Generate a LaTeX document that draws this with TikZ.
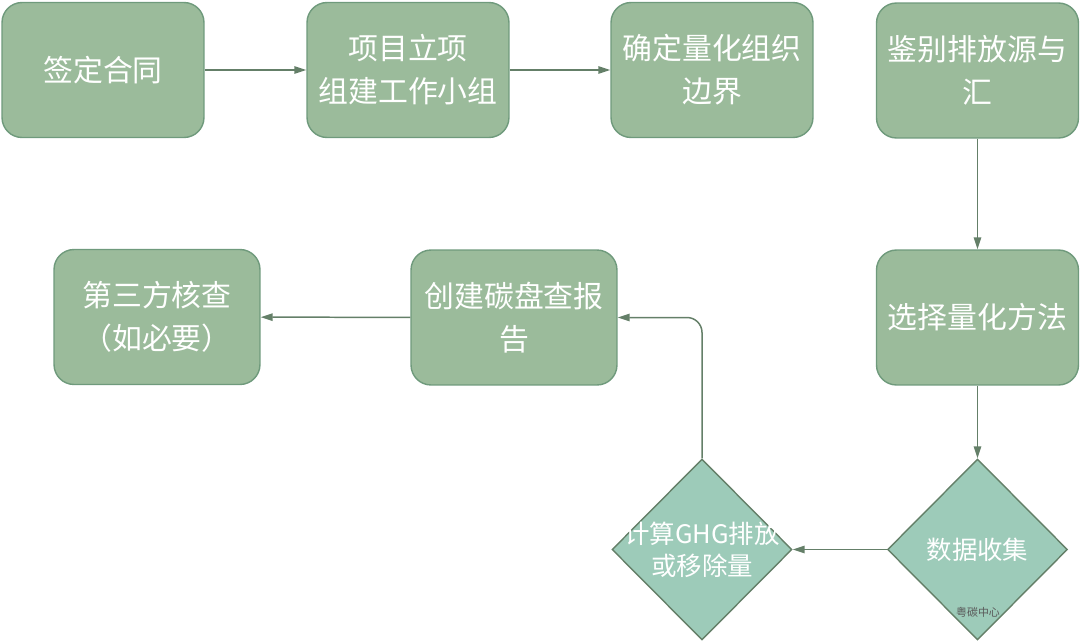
\documentclass[tikz,border=0pt]{standalone}
\usepackage{fontspec}
\setmainfont{Noto Sans CJK SC}
\usetikzlibrary{shapes.geometric,arrows.meta}
\definecolor{boxfill}{HTML}{9BBB9B}
\definecolor{boxline}{HTML}{6F9A7C}
\definecolor{diafill}{HTML}{9DCBB9}
\definecolor{linkcol}{HTML}{647F68}
\begin{document}
\begin{tikzpicture}[x=0.02cm, y=-0.02cm,
    box/.style={rectangle, rounded corners=0.4cm, draw=boxline, fill=boxfill, line width=0.8pt,
        minimum width=4.04cm, minimum height=2.7cm, align=center, text=white,
        font=\fontsize{17}{24.4}\selectfont},
    dia/.style={diamond, draw=linkcol, fill=diafill, line width=0.8pt, inner sep=0pt,
        minimum width=3.6cm, minimum height=3.62cm},
    dialabel/.style={align=center, text=white, font=\fontsize{14.5}{18}\selectfont},
    link/.style={draw=linkcol, line width=0.85pt, -{Triangle[length=2.4mm, width=1.5mm]}}]
    \useasboundingbox (0,0) rectangle (1080,643);
    \node[box] (contract) at (103,70) {签定合同};
    \node[box] (project) at (408,70) {项目立项\\组建工作小组};
    \node[box] (boundary) at (712,70) {确定量化组织\\边界};
    \node[box] (sources) at (977.5,70.5) {鉴别排放源与\\汇};
    \node[box] (method) at (977.5,317.5) {选择量化方法};
    \node[box, minimum width=4.12cm] (report) at (514,317.5) {创建碳盘查报\\告};
    \node[box, minimum width=4.12cm] (verify) at (157,317) {第三方核查\\（如必要）};
    \node[dia, label={[dialabel]center:数据收集}] (collect) at (977.5,549.5) {};
    \node[dia, label={[dialabel]center:计算GHG排放\\或移除量}] (calc) at (702,549.5) {};
    \node[text=black!65, font=\fontsize{6.2}{7}\selectfont] (mark) at (978,612) {粤碳中心};
    \draw[link] (contract) -- (project);
    \draw[link] (project) -- (boundary);
    \draw[link] (sources) -- (method);
    \draw[link] (method) -- (collect);
    \draw[link] (collect) -- (calc);
    \draw[link, rounded corners=0.3cm] (calc.north) |- (report.east);
    \draw[link] (report) -- (verify);
\end{tikzpicture}
\end{document}
